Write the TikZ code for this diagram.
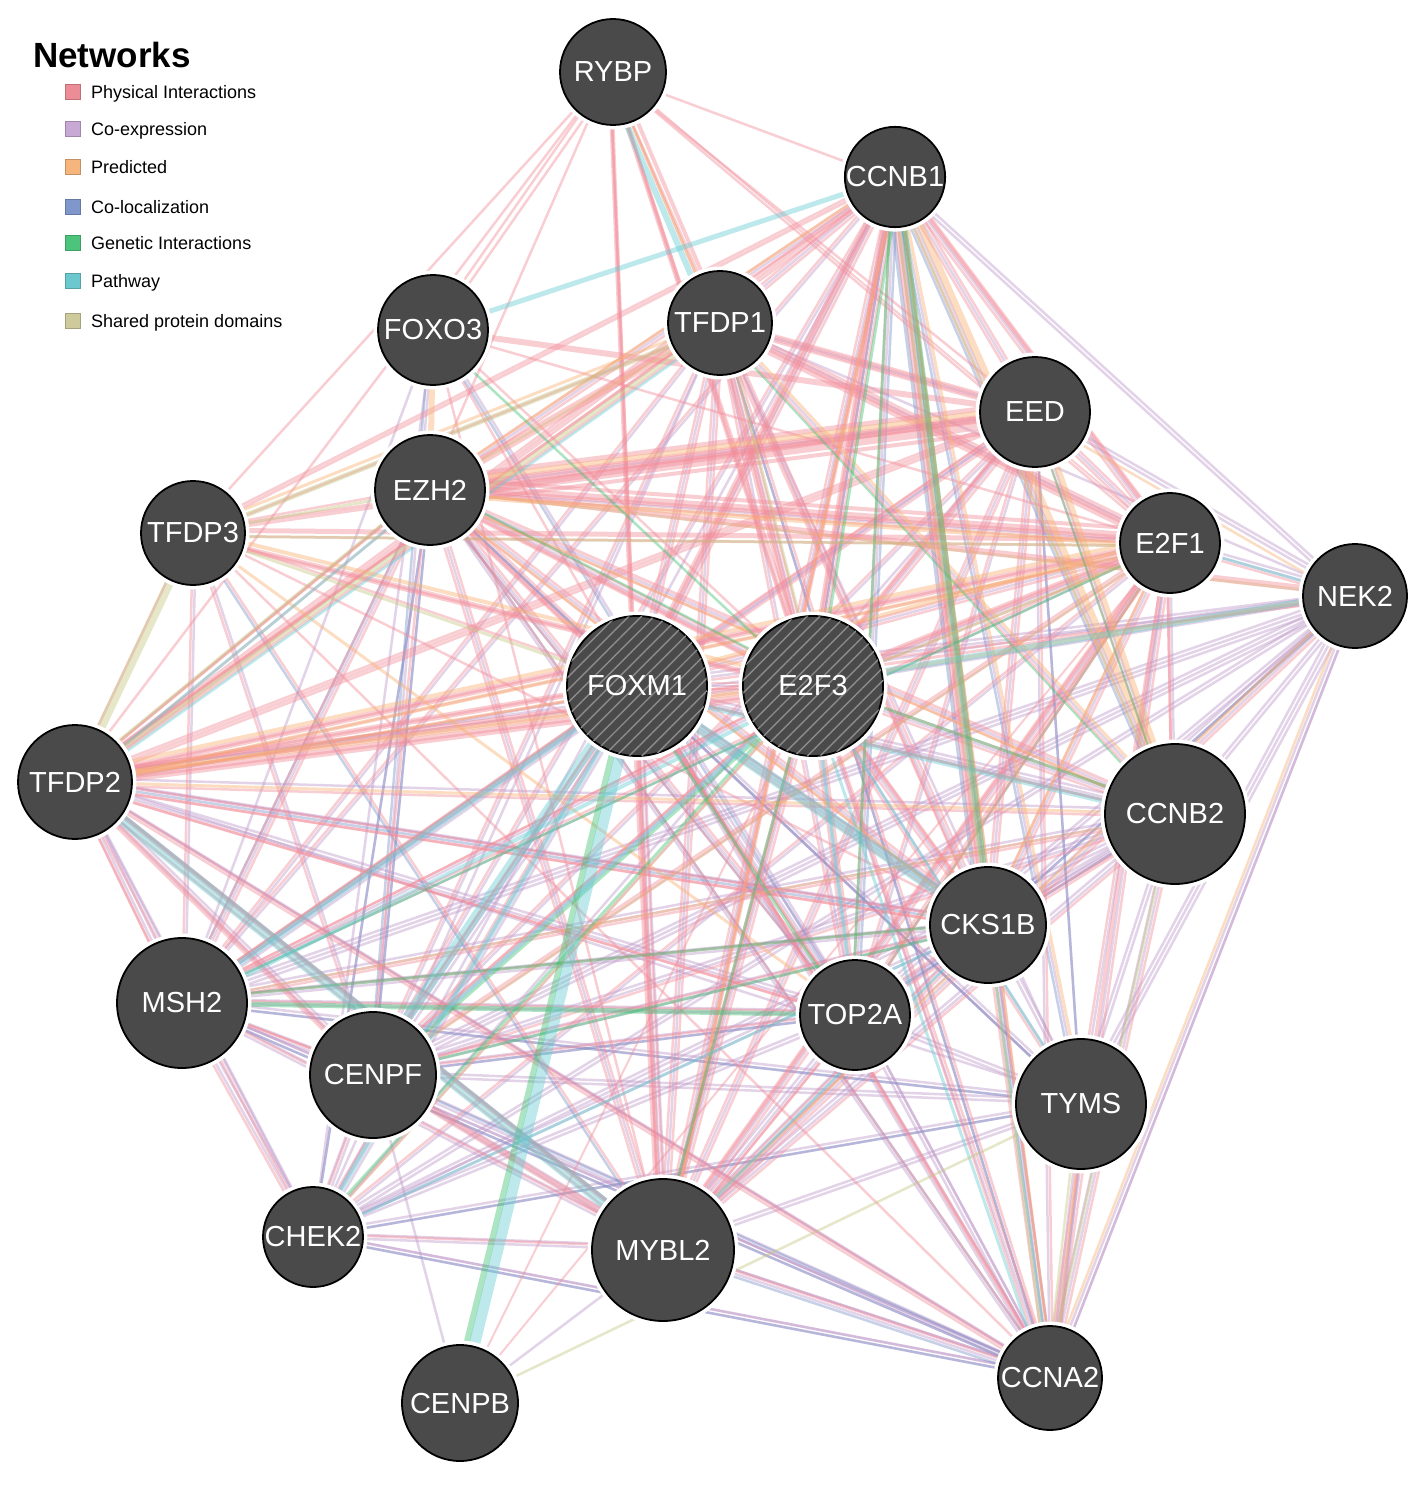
\documentclass[tikz,border=0pt]{standalone}
\usepackage{fontspec}
\setmainfont{Liberation Sans}
\usetikzlibrary{calc,backgrounds,patterns.meta}
\definecolor{cphys}{HTML}{F38C98}
\definecolor{ccoex}{HTML}{BE98C9}
\definecolor{cpred}{HTML}{F8B070}
\definecolor{ccoloc}{HTML}{7890C8}
\definecolor{cgen}{HTML}{3CC070}
\definecolor{cpath}{HTML}{62CCD2}
\definecolor{cdom}{HTML}{C4C480}
\definecolor{lphys}{HTML}{EC8C96}
\definecolor{lcoex}{HTML}{C8A8D4}
\definecolor{lpred}{HTML}{F5B57C}
\definecolor{lcoloc}{HTML}{7F97CA}
\definecolor{lgen}{HTML}{4CC47C}
\definecolor{lpath}{HTML}{6CC8CF}
\definecolor{ldom}{HTML}{CFCA9C}
\definecolor{nodegray}{HTML}{4A4A4A}
\definecolor{hatch}{HTML}{8C8C8C}
\tikzset{
  x=1pt, y=-1pt,
  gene/.style={circle, inner sep=0pt, fill=nodegray, draw=black, line width=1.8pt,
    text=white, font=\fontsize{29}{29}\selectfont,
    preaction={draw=white, line width=9pt}},
  hub/.style={gene, postaction={pattern={Lines[angle=45,distance=9pt,line width=1.4pt]}, pattern color=hatch}},
  ed/.style={line width=2.5pt, draw opacity=0.42},
  phys/.style={ed, draw=cphys},
  coex/.style={ed, draw=ccoex},
  pred/.style={ed, draw=cpred},
  coloc/.style={ed, draw=ccoloc},
  gen/.style={ed, draw=cgen},
  path/.style={ed, draw=cpath},
  dom/.style={ed, draw=cdom},
  legsq/.style={rectangle, minimum size=15pt, inner sep=0pt, line width=0.8pt},
  legtxt/.style={anchor=base west, inner sep=0pt, font=\fontsize{18}{18}\selectfont},
}
\newcommand\myedges[2]{\foreach \a/\b/\w/\o in {#2} {\draw[#1, line width=\w pt] ($(\a.center)!\o pt!90:(\b.center)$) -- ($(\b.center)!\o pt!-90:(\a.center)$);}}
\newcommand\allpairs[3]{\foreach [count=\i] \a in {#2} {\foreach [count=\j] \b in {#2} {\ifnum\j>\i \draw[#1] ($(\a.center)!#3 pt!90:(\b.center)$) -- ($(\b.center)!#3 pt!-90:(\a.center)$);\fi}}}
\begin{document}
\begin{tikzpicture}
\useasboundingbox (0,0) rectangle (1421,1487);
% nodes
\node[gene, minimum size=106pt] (rybp) at (613,72) {RYBP};
\node[gene, minimum size=100pt] (ccnb1) at (895,177) {CCNB1};
\node[gene, minimum size=110pt] (foxo3) at (433,330) {FOXO3};
\node[gene, minimum size=104pt] (tfdp1) at (720,323) {TFDP1};
\node[gene, minimum size=110pt] (eed) at (1035,412) {EED};
\node[gene, minimum size=110pt] (ezh2) at (430,490) {EZH2};
\node[gene, minimum size=104pt] (tfdp3) at (193,533) {TFDP3};
\node[gene, minimum size=100pt] (e2f1) at (1170,543) {E2F1};
\node[gene, minimum size=104pt] (nek2) at (1355,596) {NEK2};
\node[hub, minimum size=140pt] (foxm1) at (637,686) {FOXM1};
\node[hub, minimum size=140pt] (e2f3) at (813,686) {E2F3};
\node[gene, minimum size=114pt] (tfdp2) at (75,782) {TFDP2};
\node[gene, minimum size=140pt] (ccnb2) at (1175,814) {CCNB2};
\node[gene, minimum size=116pt] (cks1b) at (988,925) {CKS1B};
\node[gene, minimum size=130pt] (msh2) at (182,1003) {MSH2};
\node[gene, minimum size=110pt] (top2a) at (855,1015) {TOP2A};
\node[gene, minimum size=126pt] (cenpf) at (373,1075) {CENPF};
\node[gene, minimum size=130pt] (tyms) at (1081,1104) {TYMS};
\node[gene, minimum size=100pt] (chek2) at (313,1237) {CHEK2};
\node[gene, minimum size=142pt] (mybl2) at (663,1250) {MYBL2};
\node[gene, minimum size=116pt] (cenpb) at (460,1403) {CENPB};
\node[gene, minimum size=104pt] (ccna2) at (1050,1378) {CCNA2};
% legend
\node[anchor=base west, inner sep=0pt, font=\bfseries\fontsize{35}{35}\selectfont] (ltitle) at (33,68) {Networks};
\node[legsq, fill=lphys, draw=lphys!80!black] (sq1) at (73,92) {};
\node[legtxt] (lt1) at (91,98.5) {Physical Interactions};
\node[legsq, fill=lcoex, draw=lcoex!80!black] (sq2) at (73,129) {};
\node[legtxt] (lt2) at (91,135.5) {Co-expression};
\node[legsq, fill=lpred, draw=lpred!80!black] (sq3) at (73,167) {};
\node[legtxt] (lt3) at (91,173.5) {Predicted};
\node[legsq, fill=lcoloc, draw=lcoloc!80!black] (sq4) at (73,207) {};
\node[legtxt] (lt4) at (91,213.5) {Co-localization};
\node[legsq, fill=lgen, draw=lgen!80!black] (sq5) at (73,243) {};
\node[legtxt] (lt5) at (91,249.5) {Genetic Interactions};
\node[legsq, fill=lpath, draw=lpath!80!black] (sq6) at (73,281) {};
\node[legtxt] (lt6) at (91,287.5) {Pathway};
\node[legsq, fill=ldom, draw=ldom!80!black] (sq7) at (73,321) {};
\node[legtxt] (lt7) at (91,327.5) {Shared protein domains};
% edges
\begin{scope}[on background layer]
\fill[white] (0,0) rectangle (1421,1487);
% co-expression
\allpairs{coex}{ccnb1,ccnb2,ccna2,nek2,tyms,top2a,cks1b,mybl2,foxm1,cenpf,chek2,msh2,e2f1,ezh2,e2f3,eed,tfdp1}{0}
\allpairs{coex}{ccnb2,ccna2,nek2,tyms,top2a,cks1b,mybl2,cenpf,chek2,msh2,tfdp2,foxm1}{-4}
\myedges{coex}{tfdp2/msh2/2.5/0, tfdp2/cenpf/2.5/0, tfdp2/chek2/2.5/3, tfdp2/ccna2/2.5/3, tfdp2/top2a/2.5/0, tfdp2/cks1b/2.5/3, tfdp2/e2f3/2.5/6, foxo3/cenpf/2.5/0, foxo3/msh2/2.5/0, foxo3/chek2/2.5/0, foxo3/top2a/2.5/3, tfdp3/msh2/2.5/3, tfdp3/cenpf/2.5/3, cenpb/mybl2/2.5/0, cenpb/cenpf/2.5/0, chek2/ccna2/2.5/4, msh2/ccna2/2.5/4, nek2/ccna2/2.5/4, nek2/tyms/2.5/4, nek2/ccnb1/2.5/4, tyms/ccna2/2.5/5, top2a/ccna2/2.5/4, mybl2/ccna2/2.5/4, cks1b/ccna2/2.5/4, nek2/e2f1/2.5/-4, nek2/eed/2.5/-4, nek2/cenpf/2.5/4, nek2/msh2/2.5/4}
% co-localization
\myedges{coloc}{chek2/ccna2/2.5/0, mybl2/ccna2/2.5/-3, ezh2/top2a/2.5/-3, ezh2/msh2/2.5/-3, ezh2/cenpf/2.5/0, ezh2/chek2/2.5/0, ccnb1/ccnb2/2.5/-6, ccnb1/e2f3/2.5/0, cenpf/top2a/2.5/0, msh2/ccna2/2.5/0, tfdp1/ccna2/2.5/0, eed/tyms/2.5/0, tfdp2/cks1b/2.5/0, foxo3/top2a/2.5/0, foxo3/cenpf/2.5/-3, ezh2/ccna2/2.5/3, ezh2/tyms/2.5/0, cenpf/ccna2/2.5/3, msh2/tyms/2.5/0, chek2/tyms/2.5/0, ccnb1/tyms/2.5/-3, ccnb1/top2a/2.5/3, nek2/cks1b/2.5/0, ccnb2/top2a/2.5/0, e2f1/top2a/2.5/0, ccnb1/cks1b/4/-8, tfdp3/mybl2/2.5/0}
% physical interactions
\allpairs{phys}{e2f1,e2f3,tfdp1,tfdp2,tfdp3,eed,ezh2,foxm1,ccnb1,mybl2,ccna2,cks1b,rybp}{3}
\allpairs{phys}{e2f1,e2f3,tfdp1,tfdp2,eed,ezh2,foxm1,ccnb1,mybl2,cks1b,top2a,cenpf,msh2,ccnb2}{-3}
\myedges{phys}{ezh2/eed/14/-4, ezh2/eed/5/10, ezh2/eed/4/-15, ezh2/e2f1/8/4, ezh2/e2f1/4/12, ezh2/nek2/4/3, foxo3/eed/6/0, tfdp3/eed/4/0, tfdp1/eed/5/0, tfdp1/e2f1/9/-3, tfdp1/e2f3/7/-3, tfdp2/e2f3/8/-3, tfdp2/e2f3/4/8, tfdp2/e2f1/6/3, tfdp2/nek2/3/0, tfdp2/foxm1/6/3, tfdp3/e2f3/6/-3, tfdp3/e2f1/5/3, ccnb1/e2f3/6/-3, ccnb1/foxm1/7/-3, ccnb1/cks1b/6/-4, foxm1/mybl2/7/-3, e2f3/mybl2/5/-3, rybp/e2f3/5/-3, rybp/foxm1/5/-3, rybp/tfdp1/4/3, e2f1/ccna2/4/-3, e2f1/mybl2/5/-3, eed/e2f3/5/-3, ezh2/foxm1/5/-3, cenpf/mybl2/5/0, tfdp2/mybl2/5/3, tfdp2/cenpf/4/0, ezh2/e2f3/5/-3, e2f1/e2f3/6/-3, ccnb1/e2f1/5/3, e2f3/cks1b/4/3, foxm1/ccna2/4/3, ccnb1/mybl2/5/3,
 rybp/foxo3/2.5/3, rybp/foxo3/2.5/-3, rybp/e2f1/2/0, foxo3/e2f1/2.5/0, foxo3/e2f3/2.5/3, foxo3/foxm1/2.5/0, foxo3/mybl2/2.5/0, chek2/e2f1/2.5/3, chek2/foxm1/2.5/3, chek2/msh2/2.5/3, chek2/tfdp2/2.5/0, msh2/tfdp2/2.5/3, msh2/e2f3/2.5/3, msh2/foxm1/3/3, cenpf/foxm1/3/3, cenpf/e2f3/3/3, top2a/mybl2/2.5/3, top2a/foxm1/3/3, top2a/e2f3/3/-3, ccnb2/e2f1/3/3, ccnb2/foxm1/3/3, ccnb2/e2f3/3/-3, ccnb2/ccna2/2.5/3, tyms/e2f1/2.5/3, tyms/e2f3/2.5/3, nek2/e2f1/2.5/3, nek2/mybl2/2.5/3, nek2/foxm1/2.5/3, tfdp2/cks1b/3/-3, tfdp2/top2a/3/-3, tfdp2/eed/3/0, tfdp2/tfdp1/3/3, tfdp2/ezh2/3/3, ezh2/msh2/2.5/3, ezh2/top2a/2.5/3, ezh2/ccnb2/3/3, cenpb/e2f3/2/0, cenpb/e2f1/2/0, tfdp3/msh2/2.5/0, tfdp3/cenpf/2.5/0, tfdp2/ccna2/2.5/0, tfdp2/ccnb1/3/0, tfdp3/ccnb1/3/0, chek2/cenpf/2.5/3, msh2/cenpf/2.5/3, chek2/mybl2/2.5/3}
% predicted
\myedges{pred}{ccnb1/ccnb2/7/4, ccnb1/tyms/3/3, ezh2/e2f1/5/-4, ezh2/eed/5/6, ezh2/ccnb1/3/3, ezh2/nek2/3/0, ezh2/ccnb2/3/-3, tfdp2/e2f3/5/3, tfdp2/e2f1/4/-3, tfdp2/e2f1/4/8, tfdp2/foxm1/3/-3, foxo3/ezh2/6/0, tfdp3/tfdp1/3/3, eed/ccnb2/6/3, nek2/mybl2/3/-3, ccnb1/ccna2/3/3, tfdp1/ccnb2/3/3, tfdp3/top2a/3/0, mybl2/ccnb1/3/-3, top2a/e2f1/3/0, cks1b/e2f1/3/3, e2f3/nek2/4/3, cenpf/e2f1/3/0, chek2/e2f3/2.5/0, msh2/ccnb2/2.5/0, tyms/ccna2/2.5/3, nek2/ccna2/2.5/-3, ezh2/cks1b/3/-3, tfdp3/e2f3/4/3, rybp/tfdp1/3/-3, eed/nek2/2.5/-5, ezh2/tfdp1/4/0, foxm1/e2f1/4/5, tfdp2/ccnb2/3/0}
% genetic interactions
\myedges{gen}{ccnb1/cks1b/6/3, ccnb1/top2a/3/-3, msh2/top2a/5/0, cenpb/foxm1/6/8, eed/ccnb2/2/-3, e2f3/ccnb2/3/3, cenpf/e2f3/3/-3, chek2/e2f3/3/3, msh2/e2f1/2.5/0, ezh2/e2f3/2.5/4, foxm1/top2a/3/-5, mybl2/e2f3/3/4, cenpf/cks1b/3/0, tfdp1/ccnb2/2/-5, ccnb1/e2f3/3/5, foxo3/e2f3/2.5/-3, msh2/cks1b/3/3}
% pathway
\myedges{path}{rybp/tfdp1/6/-8, foxo3/ccnb1/5/0, tfdp2/mybl2/11/0, cenpb/foxm1/11/0, foxm1/cks1b/11/0, foxm1/ccnb2/5/-4, foxm1/cenpf/10/-4, foxm1/msh2/6/0, foxm1/chek2/5/0, e2f1/nek2/3/0, nek2/e2f3/6/-3, e2f3/cenpf/4/0, e2f3/top2a/4/0, tfdp2/ezh2/3/-3, tfdp2/tfdp1/2.5/-5, e2f3/tyms/3/0, cks1b/ccna2/3/0, e2f3/ccna2/3/-5, mybl2/cks1b/3/0, chek2/cks1b/3/0, msh2/e2f3/4/-4}
% shared protein domains
\myedges{dom}{tfdp2/tfdp3/9/0, tfdp2/tfdp1/4/0, tfdp3/tfdp1/5/-3, tfdp2/ezh2/3/4, tfdp3/ezh2/3/0, e2f1/e2f3/3/3, ccnb1/ccnb2/3/-3, ccnb1/ccna2/3/-3, ccnb2/ccna2/3/-3, cenpb/tyms/2.5/0, tfdp1/e2f3/3/4, tfdp3/e2f1/3/-3, tfdp3/foxm1/3/0, tyms/ccna2/2.5/-3}
\end{scope}
\end{tikzpicture}
\end{document}
